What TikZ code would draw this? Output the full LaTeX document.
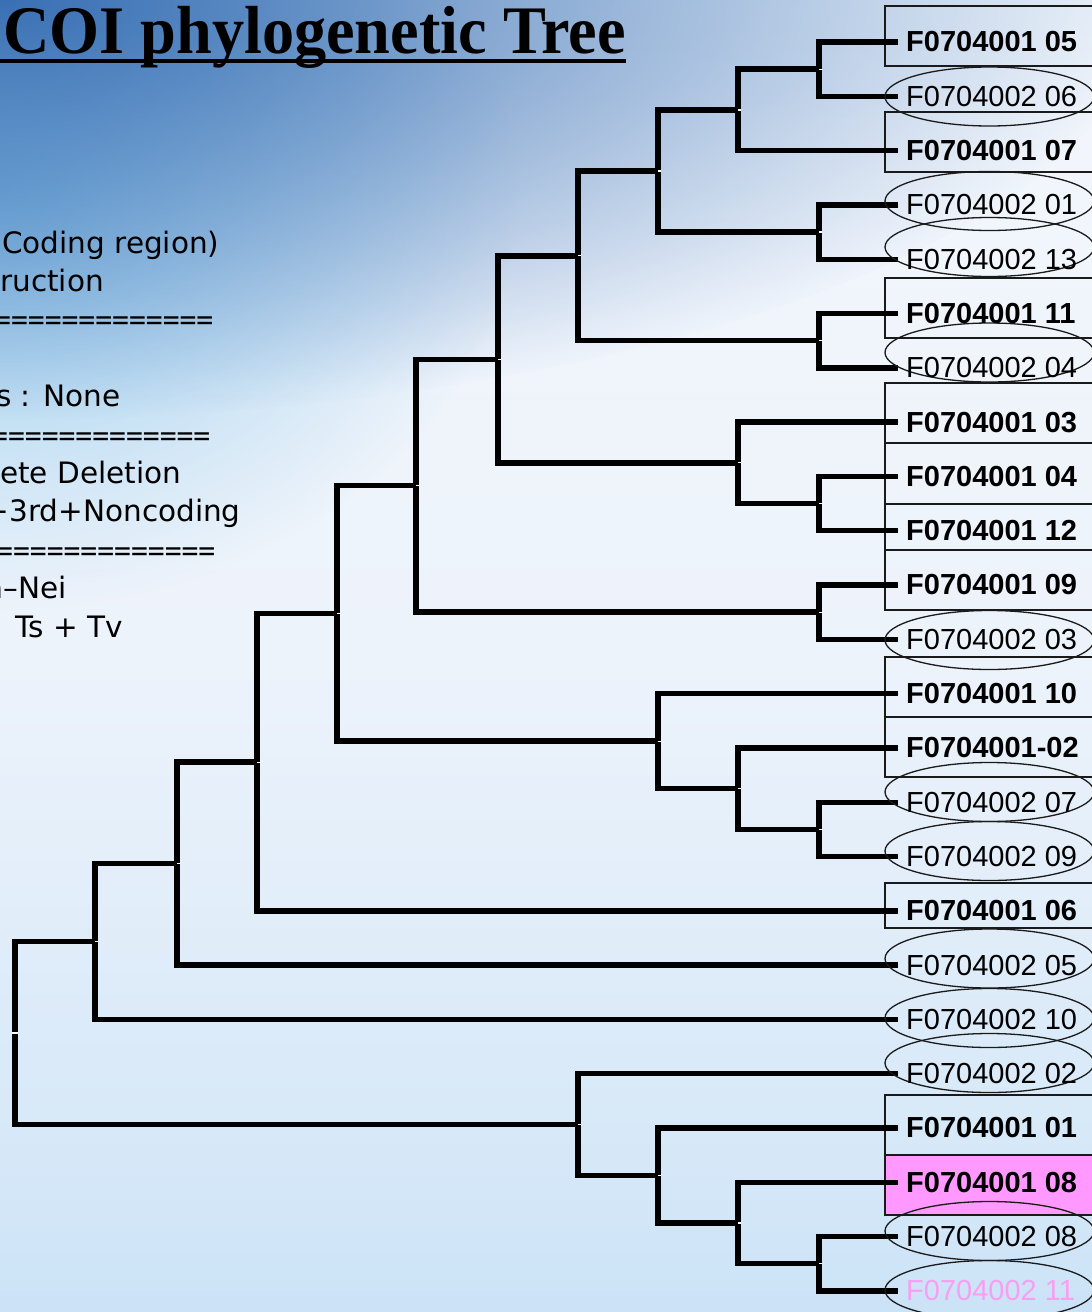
\documentclass[tikz,border=0pt]{standalone}
\usepackage{fontspec}
\setmainfont{Liberation Sans}
\newfontfamily\titlefont{Liberation Serif}
\newfontfamily\notefont{DejaVu Sans}
\newfontfamily\notemono{DejaVu Sans Mono}
\usetikzlibrary{shapes.geometric,fadings}

% background palette
\definecolor{skyA}{HTML}{A2CEF2}
\definecolor{skyB}{HTML}{BBDBF5}
\definecolor{skyC}{HTML}{D6E8F8}
\definecolor{skyD}{HTML}{EDF3FB}
\definecolor{skyE}{HTML}{F2F6FC}
\definecolor{skyF}{HTML}{E3EEF9}
\definecolor{skyG}{HTML}{C6DAEF}
\definecolor{deepblue}{HTML}{3A70B4}
\definecolor{cyanish}{HTML}{7CC0EA}
\definecolor{pinkfill}{HTML}{FF99FF}
\definecolor{pinktext}{HTML}{FA9EF2}
\definecolor{edge}{HTML}{1A1A1A}

\pgfdeclareverticalshading{skybg}{100bp}{color(0bp)=(skyA); color(16bp)=(skyB);
  color(31bp)=(skyC); color(50bp)=(skyD); color(70bp)=(skyE); color(86bp)=(skyF);
  color(100bp)=(skyG)}
\tikzfading[name=softblob, inner color=transparent!0, outer color=transparent!100]

\begin{document}
\begin{tikzpicture}[x=1pt,y=-1pt,
  branch/.style={line width=5.4pt,line join=miter,line cap=butt,black},
  nodetick/.style={white,line width=1.2pt},
  leafbox/.style={draw=edge,line width=1.3pt,rectangle,minimum width=215pt,inner sep=0pt},
  leafell/.style={draw=edge,line width=1.3pt,ellipse,minimum width=209pt,minimum height=59pt,inner sep=0pt},
  boldlbl/.style={anchor=west,inner sep=0pt,font=\fontsize{29}{30}\selectfont\bfseries},
  plainlbl/.style={anchor=west,inner sep=0pt,font=\fontsize{29}{30}\selectfont},
  note/.style={anchor=base west,inner sep=0pt,font=\notefont\fontsize{29.5}{30}\selectfont},
  rule/.style={anchor=base west,inner sep=0pt,font=\notemono\fontsize{28}{30}\selectfont}]
\useasboundingbox (0,0) rectangle (1092,1312);

% sky background
\shade[shading=skybg] (0,0) rectangle (1092,1312);
\fill[cyanish,path fading=softblob,opacity=0.8] (0,190) ellipse (520 and 420);
\fill[deepblue,path fading=softblob] (0,0) ellipse (1150 and 420);

% title
\node[anchor=base west,inner sep=0pt] (title) at (3,53)
  {\titlefont\bfseries\fontsize{68}{70}\selectfont\scalebox{0.945}[1]{COI phylogenetic Tree}};
\draw[line width=4pt] (0,60.5) -- ([yshift=-7.5pt]title.base east);

% settings text
\node[note] (n1) at (2,253) {Coding region)};
\node[note] (n2) at (0,291.4) {ruction};
\node[rule] (n3) at (-6,329.8) {=============};
\node[note] (n5) at (-4,406.6) {s : None};
\node[rule] (n6) at (-9,445) {=============};
\node[note] (n7) at (0,483.4) {ete Deletion};
\node[note] (n8) at (-15.5,521.8) {+3rd+Noncoding};
\node[rule] (n9) at (-4,560.2) {=============};
\node[note] (n10) at (-15,598.6) {a–Nei};
\node[note] (n11) at (15,637) {Ts + Tv};

% leaf boxes
\node[leafbox,minimum height=60pt] (b1) at (992.5,36) {};
\node[leafbox,minimum height=60pt] (b3) at (992.5,142) {};
\node[leafbox,minimum height=60pt] (b6) at (992.5,308) {};
\node[leafbox,minimum height=60pt] (b8) at (992.5,413) {};
\node[leafbox,minimum height=61pt] (b9) at (992.5,473.5) {};
\node[leafbox,minimum height=46pt] (b10) at (992.5,527) {};
\node[leafbox,minimum height=60pt] (b11) at (992.5,580) {};
\node[leafbox,minimum height=60pt] (b13) at (992.5,687) {};
\node[leafbox,minimum height=60pt] (b14) at (992.5,747) {};
\node[leafbox,minimum height=45pt] (b17) at (992.5,905.5) {};
\node[leafbox,minimum height=60pt] (b21) at (992.5,1125) {};
\node[leafbox,minimum height=60pt,fill=pinkfill] (b22) at (992.5,1185) {};

% leaf tips
\coordinate (t1) at (898,42);
\coordinate (t2) at (898,96.3);
\coordinate (t3) at (898,150.6);
\coordinate (t4) at (898,204.9);
\coordinate (t5) at (898,259.2);
\coordinate (t6) at (898,313.5);
\coordinate (t7) at (898,367.8);
\coordinate (t8) at (898,422.1);
\coordinate (t9) at (898,476.4);
\coordinate (t10) at (898,530.7);
\coordinate (t11) at (898,585);
\coordinate (t12) at (898,639.3);
\coordinate (t13) at (898,693.6);
\coordinate (t14) at (898,747.9);
\coordinate (t15) at (898,802.2);
\coordinate (t16) at (898,856.5);
\coordinate (t17) at (898,910.8);
\coordinate (t18) at (898,965.1);
\coordinate (t19) at (898,1019.4);
\coordinate (t20) at (898,1073.7);
\coordinate (t21) at (898,1128);
\coordinate (t22) at (898,1182.3);
\coordinate (t23) at (898,1236.6);
\coordinate (t24) at (898,1290.9);

% internal nodes
\coordinate (nA) at (819,69.15);
\coordinate (nB) at (738,109.9);
\coordinate (nC) at (819,232.05);
\coordinate (nD) at (658,170.98);
\coordinate (nE) at (819,340.65);
\coordinate (nF) at (578,255.8);
\coordinate (nG) at (819,503.55);
\coordinate (nH) at (738,462.8);
\coordinate (nI) at (498,359.3);
\coordinate (nJ) at (819,612.15);
\coordinate (nK) at (416,485.7);
\coordinate (nL) at (819,829.35);
\coordinate (nM) at (738,788.6);
\coordinate (nN) at (658,741.1);
\coordinate (nO) at (337,613.4);
\coordinate (nP) at (257,762.1);
\coordinate (nQ) at (177,863.6);
\coordinate (nR) at (95,941.5);
\coordinate (nS) at (819,1263.75);
\coordinate (nT) at (738,1223);
\coordinate (nU) at (658,1175.5);
\coordinate (nV) at (578,1124.6);
\coordinate (nW) at (15,1033);

% branches
\draw[branch] (nA) |- (t1);  \draw[branch] (nA) |- (t2);
\draw[branch] (nB) |- (nA);  \draw[branch] (nB) |- (t3);
\draw[branch] (nC) |- (t4);  \draw[branch] (nC) |- (t5);
\draw[branch] (nD) |- (nB);  \draw[branch] (nD) |- (nC);
\draw[branch] (nE) |- (t6);  \draw[branch] (nE) |- (t7);
\draw[branch] (nF) |- (nD);  \draw[branch] (nF) |- (nE);
\draw[branch] (nG) |- (t9);  \draw[branch] (nG) |- (t10);
\draw[branch] (nH) |- (t8);  \draw[branch] (nH) |- (nG);
\draw[branch] (nI) |- (nF);  \draw[branch] (nI) |- (nH);
\draw[branch] (nJ) |- (t11); \draw[branch] (nJ) |- (t12);
\draw[branch] (nK) |- (nI);  \draw[branch] (nK) |- (nJ);
\draw[branch] (nL) |- (t15); \draw[branch] (nL) |- (t16);
\draw[branch] (nM) |- (t14); \draw[branch] (nM) |- (nL);
\draw[branch] (nN) |- (t13); \draw[branch] (nN) |- (nM);
\draw[branch] (nO) |- (nK);  \draw[branch] (nO) |- (nN);
\draw[branch] (nP) |- (nO);  \draw[branch] (nP) |- (t17);
\draw[branch] (nQ) |- (nP);  \draw[branch] (nQ) |- (t18);
\draw[branch] (nR) |- (nQ);  \draw[branch] (nR) |- (t19);
\draw[branch] (nS) |- (t23); \draw[branch] (nS) |- (t24);
\draw[branch] (nT) |- (t22); \draw[branch] (nT) |- (nS);
\draw[branch] (nU) |- (t21); \draw[branch] (nU) |- (nT);
\draw[branch] (nV) |- (t20); \draw[branch] (nV) |- (nU);
\draw[branch] (nW) |- (nR);  \draw[branch] (nW) |- (nV);

% small white marks at the branching points
\foreach \n in {nA,nB,nC,nD,nE,nF,nG,nH,nI,nJ,nK,nL,nM,nN,nO,nP,nQ,nR,nS,nT,nU,nV}
  \draw[nodetick] ([xshift=0.3pt]\n) -- ([xshift=2.7pt]\n);
\draw[nodetick] ([xshift=-2.7pt]nW) -- ([xshift=2.7pt]nW);

% leaf ellipses
\node[leafell] (e2) at (989.5,96.5) {};
\node[leafell] (e4) at (989.5,201) {};
\node[leafell] (e5) at (989.5,247) {};
\node[leafell] (e7) at (989.5,352.5) {};
\node[leafell] (e12) at (989.5,640) {};
\node[leafell] (e15) at (989.5,792) {};
\node[leafell] (e16) at (989.5,851) {};
\node[leafell] (e18) at (989.5,958.5) {};
\node[leafell] (e19) at (989.5,1018) {};
\node[leafell] (e20) at (989.5,1063) {};
\node[leafell] (e23) at (989.5,1231) {};
\node[leafell] (e24) at (989.5,1290) {};

% leaf labels
\node[boldlbl] (l1) at (906,42) {F0704001 05};
\node[plainlbl] (l2) at (906,96.3) {F0704002 06};
\node[boldlbl] (l3) at (906,150.6) {F0704001 07};
\node[plainlbl] (l4) at (906,204.9) {F0704002 01};
\node[plainlbl] (l5) at (906,259.2) {F0704002 13};
\node[boldlbl] (l6) at (906,313.5) {F0704001 11};
\node[plainlbl] (l7) at (906,367.8) {F0704002 04};
\node[boldlbl] (l8) at (906,422.1) {F0704001 03};
\node[boldlbl] (l9) at (906,476.4) {F0704001 04};
\node[boldlbl] (l10) at (906,530.7) {F0704001 12};
\node[boldlbl] (l11) at (906,585) {F0704001 09};
\node[plainlbl] (l12) at (906,639.3) {F0704002 03};
\node[boldlbl] (l13) at (906,693.6) {F0704001 10};
\node[boldlbl] (l14) at (906,747.9) {F0704001-02};
\node[plainlbl] (l15) at (906,802.2) {F0704002 07};
\node[plainlbl] (l16) at (906,856.5) {F0704002 09};
\node[boldlbl] (l17) at (906,910.8) {F0704001 06};
\node[plainlbl] (l18) at (906,965.1) {F0704002 05};
\node[plainlbl] (l19) at (906,1019.4) {F0704002 10};
\node[plainlbl] (l20) at (906,1073.7) {F0704002 02};
\node[boldlbl] (l21) at (906,1128) {F0704001 01};
\node[boldlbl] (l22) at (906,1182.3) {F0704001 08};
\node[plainlbl] (l23) at (906,1236.6) {F0704002 08};
\node[plainlbl,text=pinktext] (l24) at (906,1290.9) {F0704002 11};
\end{tikzpicture}
\end{document}
